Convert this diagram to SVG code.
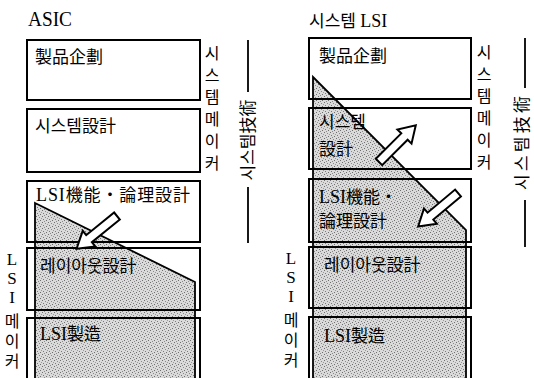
<svg xmlns="http://www.w3.org/2000/svg" width="534" height="378" viewBox="0 0 534 378">
<defs>
<pattern id="stip" width="6" height="6" patternUnits="userSpaceOnUse">
<rect width="6" height="6" fill="#dadada"/>
<rect x="0" y="0" width="1" height="1" fill="#6e6e6e"/>
<rect x="3" y="1" width="1" height="1" fill="#8a8a8a"/>
<rect x="1" y="3" width="1" height="1" fill="#7a7a7a"/>
<rect x="4" y="4" width="1" height="1" fill="#6e6e6e"/>
<rect x="5" y="2" width="1" height="1" fill="#9a9a9a"/>
<rect x="2" y="5" width="1" height="1" fill="#8a8a8a"/>
</pattern>
<path id="arr" d="M0,-4.5 L36,-4.5 L36,-10 L52,0 L36,10 L36,4.5 L0,4.5 Z"/>
</defs>
<style>
.box{fill:none;stroke:#000;stroke-width:2}
.shade{fill:url(#stip);stroke:#000;stroke-width:1.8;stroke-linejoin:miter}
.t{font-family:"Noto Sans CJK KR","Liberation Serif",sans-serif;font-size:17px;fill:#000}
.lat{font-family:"Liberation Serif",serif}
.vt{font-family:"Noto Sans CJK KR",sans-serif;font-size:16px;fill:#000;writing-mode:vertical-rl;text-orientation:upright;letter-spacing:6px}
.vlat{font-family:"Liberation Serif",serif;font-size:17px;fill:#000;writing-mode:vertical-rl;text-orientation:upright}
.rot{font-family:"Noto Sans CJK KR",sans-serif;font-size:17px;fill:#000;text-anchor:middle}
.ttl{font-family:"Liberation Serif","Noto Sans CJK KR",serif;fill:#000}
.ln{stroke:#000;stroke-width:1.8}
.arrow{fill:#fff;stroke:#000;stroke-width:2;stroke-linejoin:miter}
</style>
<rect width="534" height="378" fill="#fff"/>

<!-- shaded regions -->
<g id="shading">
<polygon class="shade" points="35,203 195,282 195,380 35,380"/>
<polygon class="shade" points="313,77 466,230 466,380 313,380"/>
</g>

<!-- titles -->
<text id="title-asic" class="ttl" x="28" y="26" font-size="21" textLength="44" lengthAdjust="spacingAndGlyphs">ASIC</text>
<text id="title-syslsi" class="ttl" x="309" y="27" font-size="17"><tspan font-family="Noto Sans CJK KR">시스템</tspan> <tspan class="lat" font-size="18">LSI</tspan></text>

<!-- left column -->
<g id="L-plan"><rect class="box" x="27" y="40" width="173" height="60"/><text class="t" x="35" y="63">製品企劃</text></g>
<g id="L-sysdesign"><rect class="box" x="27" y="109" width="173" height="63"/><text class="t" x="35" y="132">시스템設計</text></g>
<g id="L-lsilogic"><rect class="box" x="27" y="181" width="173" height="61"/><text class="t" x="36" y="201" textLength="154" lengthAdjust="spacing"><tspan class="lat" font-size="18">LSI</tspan>機能・論理設計</text></g>
<g id="L-layout"><rect class="box" x="27" y="248" width="173" height="62"/><text class="t" x="40" y="272">레이아웃設計</text></g>
<g id="L-fab"><rect class="box" x="27" y="318" width="173" height="70"/><text class="t" x="40" y="340"><tspan class="lat" font-size="18">LSI</tspan>製造</text></g>

<g id="L-sysmaker"><text class="vt" x="212" y="45">시스템메이커</text></g>
<g id="L-systech">
<line class="ln" x1="248" y1="40" x2="248" y2="92"/>
<line class="ln" x1="248" y1="187" x2="248" y2="243"/>
<text class="rot" transform="translate(248,140) rotate(-90)" x="0" y="6">시스템技術</text>
</g>
<g id="L-lsimaker">
<text class="vlat" x="12" y="250">LSI</text>
<text class="vt" x="12" y="313" style="letter-spacing:4px">메이커</text>
</g>

<!-- right column -->
<g id="R-plan"><rect class="box" x="309" y="38" width="162" height="61"/><text class="t" x="319" y="62">製品企劃</text></g>
<g id="R-sysdesign"><rect class="box" x="309" y="108" width="162" height="61"/><text class="t" x="319" y="128">시스템</text><text class="t" x="319" y="155">設計</text></g>
<g id="R-lsilogic"><rect class="box" x="309" y="179" width="162" height="63"/><text class="t" x="319" y="203"><tspan class="lat" font-size="18">LSI</tspan>機能・</text><text class="t" x="319" y="227">論理設計</text></g>
<g id="R-layout"><rect class="box" x="309" y="247" width="162" height="61"/><text class="t" x="324" y="271">레이아웃設計</text></g>
<g id="R-fab"><rect class="box" x="309" y="317" width="162" height="70"/><text class="t" x="324" y="342"><tspan class="lat" font-size="18">LSI</tspan>製造</text></g>

<g id="R-sysmaker"><text class="vt" x="484" y="44">시스템메이커</text></g>
<g id="R-systech">
<line class="ln" x1="525" y1="38" x2="525" y2="88"/>
<line class="ln" x1="525" y1="200" x2="525" y2="247"/>
<text class="rot" transform="translate(525,143) rotate(-90)" x="0" y="3" font-size="16" textLength="94" lengthAdjust="spacing">시스템技術</text>
</g>
<g id="R-lsimaker">
<text class="vlat" x="291" y="249">LSI</text>
<text class="vt" x="291" y="312" style="letter-spacing:4px">메이커</text>
</g>

<!-- connectors -->
<g id="connectors">
<use href="#arr" class="arrow" transform="translate(117,216) rotate(141)"/>
<use href="#arr" class="arrow" transform="translate(379,162) rotate(-45)"/>
<use href="#arr" class="arrow" transform="translate(458,193) rotate(140)"/>
</g>
</svg>
